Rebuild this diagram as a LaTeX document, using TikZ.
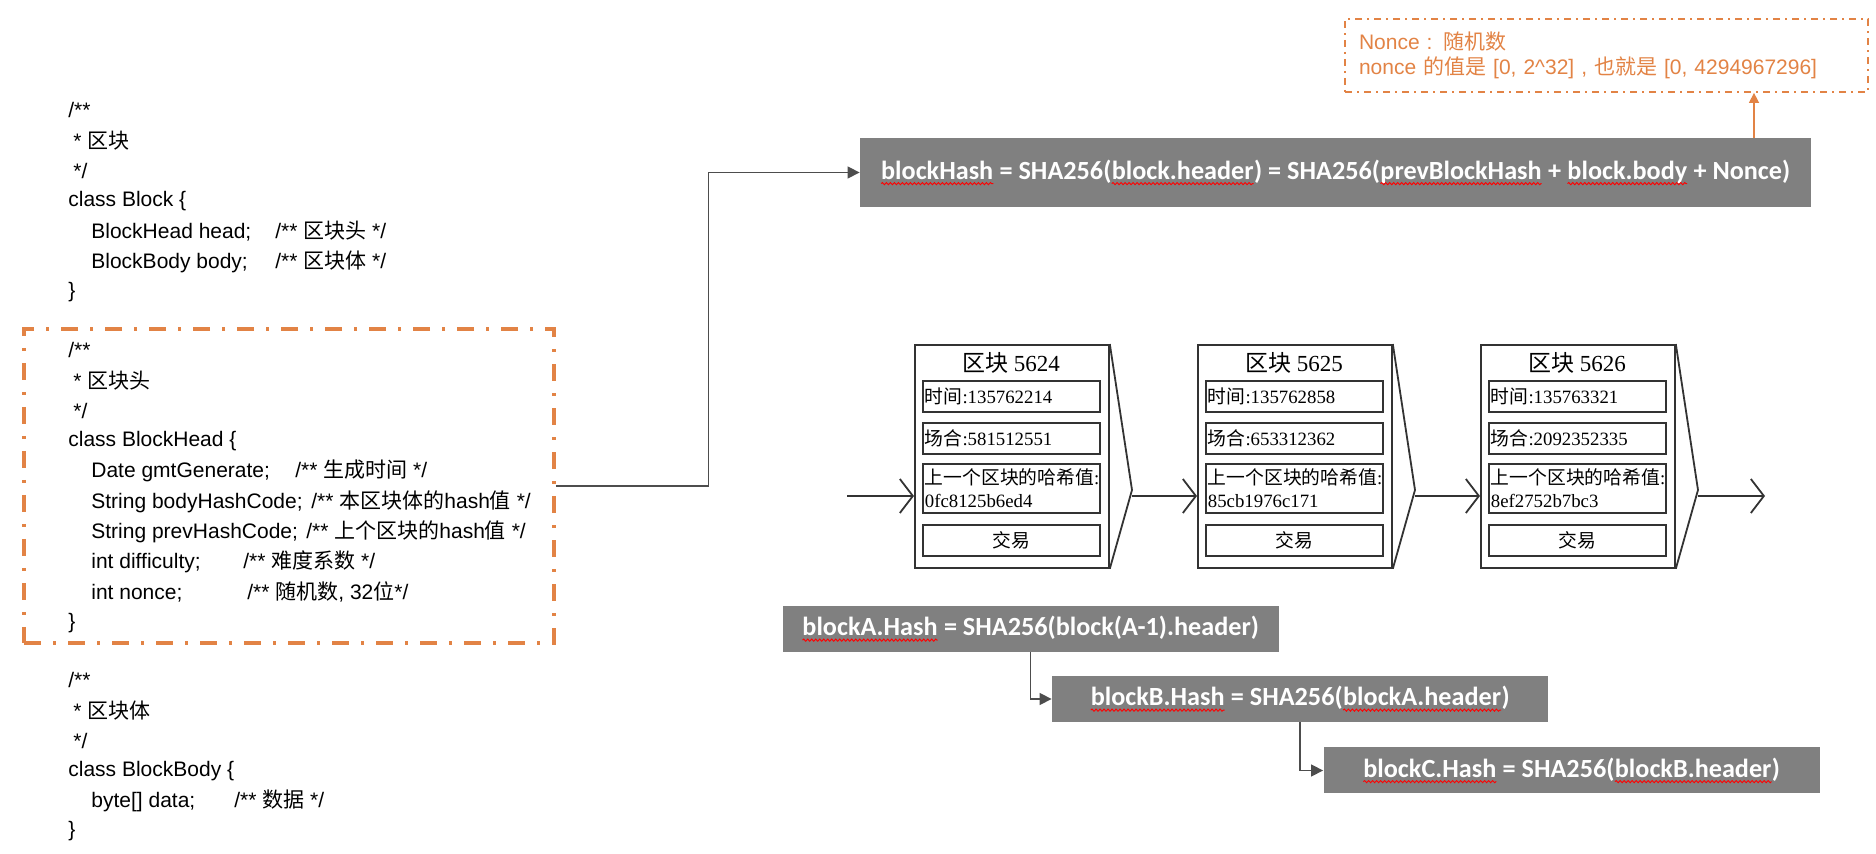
\documentclass[tikz,border=0pt]{standalone}
\usepackage{fontspec}
\setmainfont{Liberation Serif}
\setsansfont{Liberation Sans}
\newfontfamily\cjk{Noto Sans CJK SC}
\newfontfamily\hashfont{Carlito}
\usepackage{tikz}
\usetikzlibrary{arrows.meta, positioning, decorations.pathmorphing}

\definecolor{headorange}{RGB}{226,131,69}
\definecolor{hashgray}{RGB}{128,128,128}
\definecolor{wiregray}{RGB}{77,77,77}

% red wavy underline, like a spell checker
\newcommand{\spell}[1]{\tikz[baseline=(word.base)]{%
  \node[inner sep=0pt, outer sep=0pt, minimum width=0pt, minimum height=0pt, fill=none, draw=none, anchor=base] (word) at (0,0) {#1};
  \draw[red, line width=0.45pt, decorate, decoration={snake, amplitude=0.55pt, segment length=2pt}]
    ([yshift=-2.2pt]word.base west) -- ([yshift=-2.2pt]word.base east);}}
% member line: indent, padded name, comment
\newcommand{\member}[3]{\hspace*{11.5pt}\makebox[#2pt][l]{#1}#3}

\tikzset{%
  codeline/.style={anchor=west, inner sep=0pt, font=\sffamily\fontsize{10.5}{12.6}\selectfont},
  headframe/.style={draw=headorange, line width=1.75pt, dash pattern=on 8.5pt off 6pt on 1.5pt off 6pt, minimum width=265pt, minimum height=157pt},
  noteblock/.style={draw=headorange, line width=0.9pt, dash pattern=on 3.5pt off 2.5pt on 1pt off 2.5pt, text=headorange, font=\sffamily\fontsize{10.5}{12.5}\selectfont, text width=247.5pt, inner xsep=7pt, minimum height=36.5pt, align=left},
  hashblock/.style={rectangle, fill=hashgray, text=white, font=\hashfont\bfseries\fontsize{13.1}{15}\selectfont, minimum height=34.5pt},
  hashstep/.style={hashblock, minimum width=248pt, minimum height=23pt},
  chainblock/.style={rectangle, draw=black!80, line width=0.9pt, minimum width=97pt, minimum height=111.5pt, anchor=north west},
  chaintitle/.style={font=\fontsize{11.5}{13}\selectfont, inner sep=0pt},
  fieldbox/.style={rectangle, draw=black!80, line width=0.9pt, anchor=north west, text width=86.5pt, inner xsep=1pt, inner ysep=0pt, align=left, font=\fontsize{9.4}{11.5}\selectfont, minimum height=15.5pt},
  line/.style={draw=wiregray, line width=0.7pt, -{Triangle[length=6pt, width=6pt]}},
  noteline/.style={draw=headorange, line width=0.7pt, -{Triangle[length=5pt, width=5pt]}},
  chainline/.style={draw=black!80, line width=0.9pt, -{Straight Barb[length=6.5pt, width=17pt, line width=0.9pt]}}}

\begin{document}
\begin{tikzpicture}[x=0.5pt, y=-0.5pt]
  \useasboundingbox (0,0) rectangle (1876,854);

  % class Block
  \foreach \txt [count=\k from 0] in {{/**}, {\hspace*{2.5pt}* {\cjk 区块}}, {\hspace*{2.5pt}*/}, {class Block \{},
      {\member{BlockHead head;}{92}{/** {\cjk 区块头} */}}, {\member{BlockBody body;}{92}{/** {\cjk 区块体} */}}, {\}}}
    \node[codeline] (block\k) at (68, 110+30.3*\k) {\txt};

  % class BlockHead
  \foreach \txt [count=\k from 0] in {{/**}, {\hspace*{2.5pt}* {\cjk 区块头}}, {\hspace*{2.5pt}*/}, {class BlockHead \{},
      {\member{Date gmtGenerate;}{102}{/** {\cjk 生成时间} */}},
      {\member{String bodyHashCode;}{110}{/** {\cjk 本区块体的}hash{\cjk 值} */}},
      {\member{String prevHashCode;}{107.5}{/** {\cjk 上个区块的}hash{\cjk 值} */}},
      {\member{int difficulty;}{76}{/** {\cjk 难度系数} */}},
      {\member{int nonce;}{78}{/** {\cjk 随机数}, 32{\cjk 位}*/}}, {\}}}
    \node[codeline] (head\k) at (68, 350+30.3*\k) {\txt};

  % class BlockBody
  \foreach \txt [count=\k from 0] in {{/**}, {\hspace*{2.5pt}* {\cjk 区块体}}, {\hspace*{2.5pt}*/}, {class BlockBody \{},
      {\member{byte[] data;}{71.5}{/** {\cjk 数据} */}}, {\}}}
    \node[codeline] (body\k) at (68, 680+30.3*\k) {\txt};

  \node[headframe] (headframe) at (289, 486) {};

  \node[hashblock, minimum width=475.5pt] (hashmain) at (1335.5, 172.5)
    {\spell{blockHash} = SHA256(\spell{block.header}) = SHA256(\spell{prevBlockHash} + \spell{block.body} + Nonce)};
  \node[noteblock] (noncenote) at (1606.5, 55.5)
    {Nonce : {\cjk 随机数}\\nonce {\cjk 的值是} [0, 2\textasciicircum 32] , {\cjk 也就是} [0, 4294967296]};

  \draw[line] (headframe.east) -- ++(153,0) |- (hashmain.west);
  \coordinate (noncefoot) at (1754, 0);
  \draw[noteline] (hashmain.north -| noncefoot) -- (noncenote.south -| noncefoot);

  % chain of blocks
  \foreach \i/\num/\stamp/\noncev/\prev in {0/5624/135762214/581512551/0fc8125b6ed4,
      1/5625/135762858/653312362/85cb1976c171, 2/5626/135763321/2092352335/8ef2752b7bc3} {
    \pgfmathsetmacro{\bx}{914+283*\i}
    \node[chainblock] (blk\num) at (\bx, 344) {};
    \node[chaintitle] (title\num) at (\bx+97, 363) {{\cjk 区块} \num};
    \node[fieldbox] (time\num) at (\bx+8, 380) {{\cjk 时间}:\stamp};
    \node[fieldbox] (nonce\num) at (\bx+8, 422) {{\cjk 场合}:\noncev};
    \node[fieldbox, minimum height=24.5pt] (prev\num) at (\bx+8, 463) {{\cjk 上一个区块的哈希值}:\\\prev};
    \node[fieldbox, align=center] (tx\num) at (\bx+8, 524) {\cjk 交易};
    \coordinate (tip\num) at (\bx+218, 490);
    \draw[black!80, line width=0.9pt] (blk\num.north east) -- (tip\num) -- (blk\num.south east);
  }
  \coordinate (chainin) at (847, 496);
  \coordinate (chainout) at (1765, 496);
  \draw[chainline] (chainin) -- (chainin -| blk5624.west);
  \draw[chainline] (tip5624 |- chainin) -- (chainin -| blk5625.west);
  \draw[chainline] (tip5625 |- chainin) -- (chainin -| blk5626.west);
  \draw[chainline] (tip5626 |- chainin) -- (chainout);

  % hash of each block from the one before
  \node[hashstep] (hashA) at (1030.5, 629) {\spell{blockA.Hash} = SHA256(block(A-1).header)};
  \node[hashstep] (hashB) at (1300, 699) {\spell{blockB.Hash} = SHA256(\spell{blockA.header})};
  \node[hashstep] (hashC) at (1571.5, 770.5) {\spell{blockC.Hash} = SHA256(\spell{blockB.header})};
  \draw[line] (hashA.south) |- (hashB.west);
  \draw[line] (hashB.south) |- (hashC.west);
\end{tikzpicture}
\end{document}
